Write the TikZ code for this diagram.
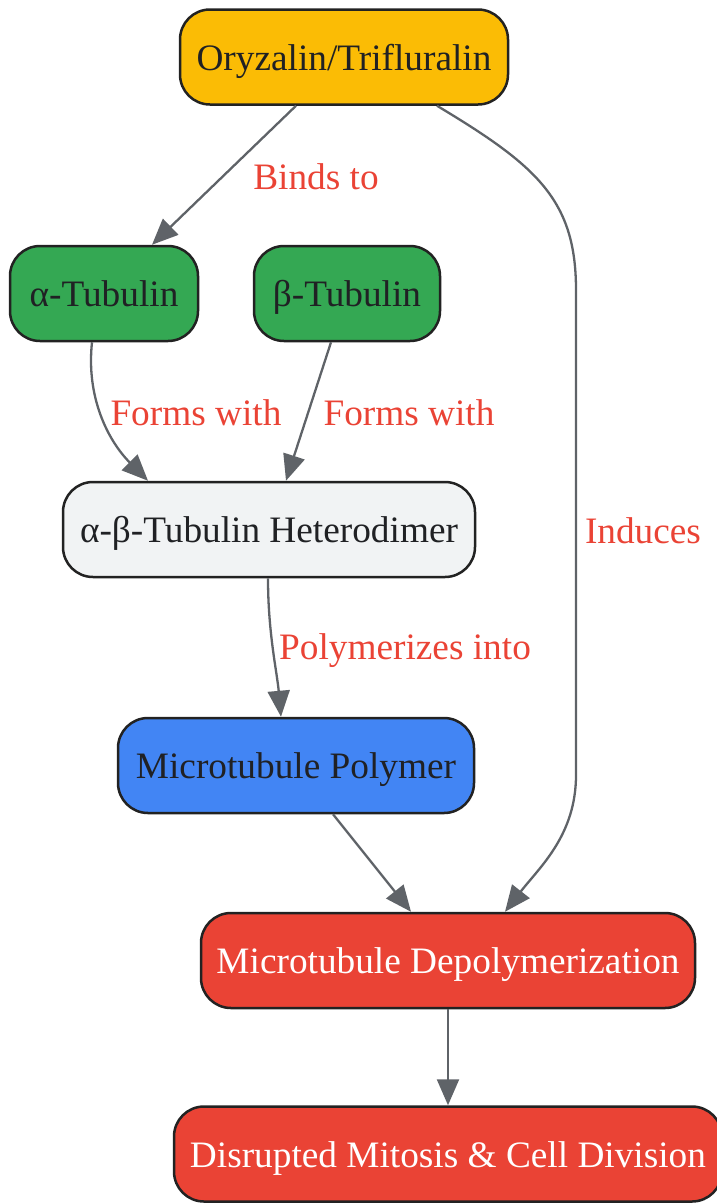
\documentclass[tikz,border=0pt]{standalone}
\usepackage{fontspec}
\setmainfont{Liberation Serif}
\usetikzlibrary{arrows.meta}
\definecolor{amber}{HTML}{FBBC05}
\definecolor{ggreen}{HTML}{34A853}
\definecolor{gblue}{HTML}{4285F4}
\definecolor{gred}{HTML}{EA4335}
\definecolor{lgray}{HTML}{F1F3F4}
\definecolor{edgegray}{HTML}{5F6368}
\definecolor{ink}{HTML}{202124}
\definecolor{border}{HTML}{222222}
\tikzset{
  box/.style={draw=border, line width=2.5pt, rounded corners=30pt, inner sep=0pt,
    minimum height=95pt, text=ink, font=\fontsize{37.3}{40}\selectfont,
    text height=29pt, text depth=3pt},
  edge/.style={draw=edgegray, line width=2.3pt, -{Triangle[length=26pt,width=22pt]}},
  elabel/.style={text=gred, font=\fontsize{37.3}{40}\selectfont, inner sep=0pt,
    text height=27pt, text depth=3pt}
}
\begin{document}
\begin{tikzpicture}[x=1pt,y=-1pt]
\useasboundingbox (0,0) rectangle (717,1203);
\node[box, fill=amber, minimum width=328pt] (oryz) at (344,57) {Oryzalin/Trifluralin};
\node[box, fill=ggreen, minimum width=188pt] (alpha) at (104,293.5) {α-Tubulin};
\node[box, fill=ggreen, minimum width=186pt] (beta) at (347,293.5) {β-Tubulin};
\node[box, fill=lgray, minimum width=412pt] (het) at (269,529.5) {α-β-Tubulin Heterodimer};
\node[box, fill=gblue, minimum width=356pt] (poly) at (296,765.5) {Microtubule Polymer};
\node[box, fill=gred, text=white, minimum width=494pt] (depo) at (448,960.5) {Microtubule Depolymerization};
\node[box, fill=gred, text=white, minimum width=548pt] (dis) at (448,1154) {Disrupted Mitosis \& Cell Division};

\coordinate (ind1) at (576,290);
\coordinate (ind2) at (576,775);

\draw[edge] ([xshift=-48pt]oryz.south) -- ([xshift=48pt]alpha.north);
\draw[edge] ([xshift=93pt]oryz.south) .. controls +(100,60) and +(0,-90) .. (ind1) -- (ind2) .. controls +(0,60) and +(35,-45) .. ([xshift=57pt]depo.north);
\draw[edge] ([xshift=-12pt]alpha.south) .. controls +(-6,55) and +(-40,-40) .. ([xshift=-121pt]het.north);
\draw[edge] ([xshift=-16pt]beta.south) -- ([xshift=17pt]het.north);
\draw[edge] ([xshift=-1pt]het.south) .. controls +(0,55) and +(-4,-45) .. ([xshift=-15pt]poly.north);
\draw[edge] ([xshift=37pt]poly.south) -- ([xshift=-37pt]depo.north);
\draw[edge] (depo.south) -- (dis.north);

\node[elabel] (l1) at (316,177) {Binds to};
\node[elabel] (l2) at (643,531) {Induces};
\node[elabel] (l3) at (196,413) {Forms with};
\node[elabel] (l4) at (409,413) {Forms with};
\node[elabel] (l5) at (405,647) {Polymerizes into};
\end{tikzpicture}
\end{document}
